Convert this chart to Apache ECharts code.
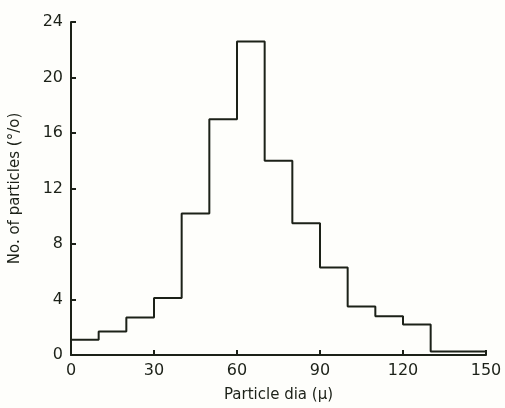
<!DOCTYPE html>
<html>
<head>
<meta charset="utf-8">
<script src="https://cdn.jsdelivr.net/npm/echarts@6/dist/echarts.min.js"></script>
<style>
  html, body { margin: 0; padding: 0; background: #fefefb; }
  #chart { width: 505px; height: 408px; }
</style>
</head>
<body>
<div id="chart"></div>
<script>
  // bin left edges (micron) and share of particles in each bin (%)
  var binStarts = [0, 10, 20, 30, 40, 50, 60, 70, 80, 90, 100, 110, 120, 130, 140]
  var binWidth = 10
  var percents = [1.1, 1.7, 2.7, 4.1, 10.2, 17.0, 22.6, 14.0, 9.5, 6.3, 3.5, 2.8, 2.2, 0.25, 0.25]
  var xTicks = [0, 30, 60, 90, 120, 150]
  var yTicks = [0, 4, 8, 12, 16, 20, 24]

  var ink = '#1c2118'

  // step line: each value held from its bin start to the next one
  var points = []
  for (var i = 0; i < binStarts.length; i++) {
    points.push([binStarts[i], percents[i]])
  }
  points.push([binStarts[binStarts.length - 1] + binWidth, percents[percents.length - 1]])

  var myChart = echarts.init(document.getElementById('chart'))
  var option = {
    backgroundColor: '#fefefb',
    animation: false,
    grid: {
      left: 70,
      right: 19,
      top: 22,
      bottom: 53,
    },
    xAxis: {
      type: 'value',
      min: xTicks[0],
      max: xTicks[xTicks.length - 1],
      interval: 30,
      name: 'Particle dia (\u03bc)',
      nameLocation: 'middle',
      nameGap: 33,
      nameTextStyle: { color: ink, fontSize: 15, fontFamily: 'DejaVu Sans' },
      axisLine: { lineStyle: { color: ink, width: 2 } },
      axisTick: { inside: true, length: 5, lineStyle: { color: ink, width: 2 } },
      axisLabel: { color: ink, fontSize: 16, fontFamily: 'DejaVu Sans', margin: 8 },
      splitLine: { show: false },
    },
    yAxis: {
      type: 'value',
      min: yTicks[0],
      max: yTicks[yTicks.length - 1],
      interval: 4,
      name: 'No. of particles (\u00b0/o)',
      nameLocation: 'middle',
      nameGap: 48,
      nameTextStyle: { color: ink, fontSize: 15, fontFamily: 'DejaVu Sans' },
      axisLine: { show: true, lineStyle: { color: ink, width: 2 } },
      axisTick: { show: true, inside: true, length: 5, lineStyle: { color: ink, width: 2 } },
      axisLabel: { color: ink, fontSize: 16, fontFamily: 'DejaVu Sans', margin: 8 },
      splitLine: { show: false },
    },
    series: [{
      type: 'line',
      step: 'end',
      data: points,
      symbol: 'none',
      lineStyle: { color: ink, width: 2 },
    }],
  }
  myChart.setOption(option)
</script>
</body>
</html>
